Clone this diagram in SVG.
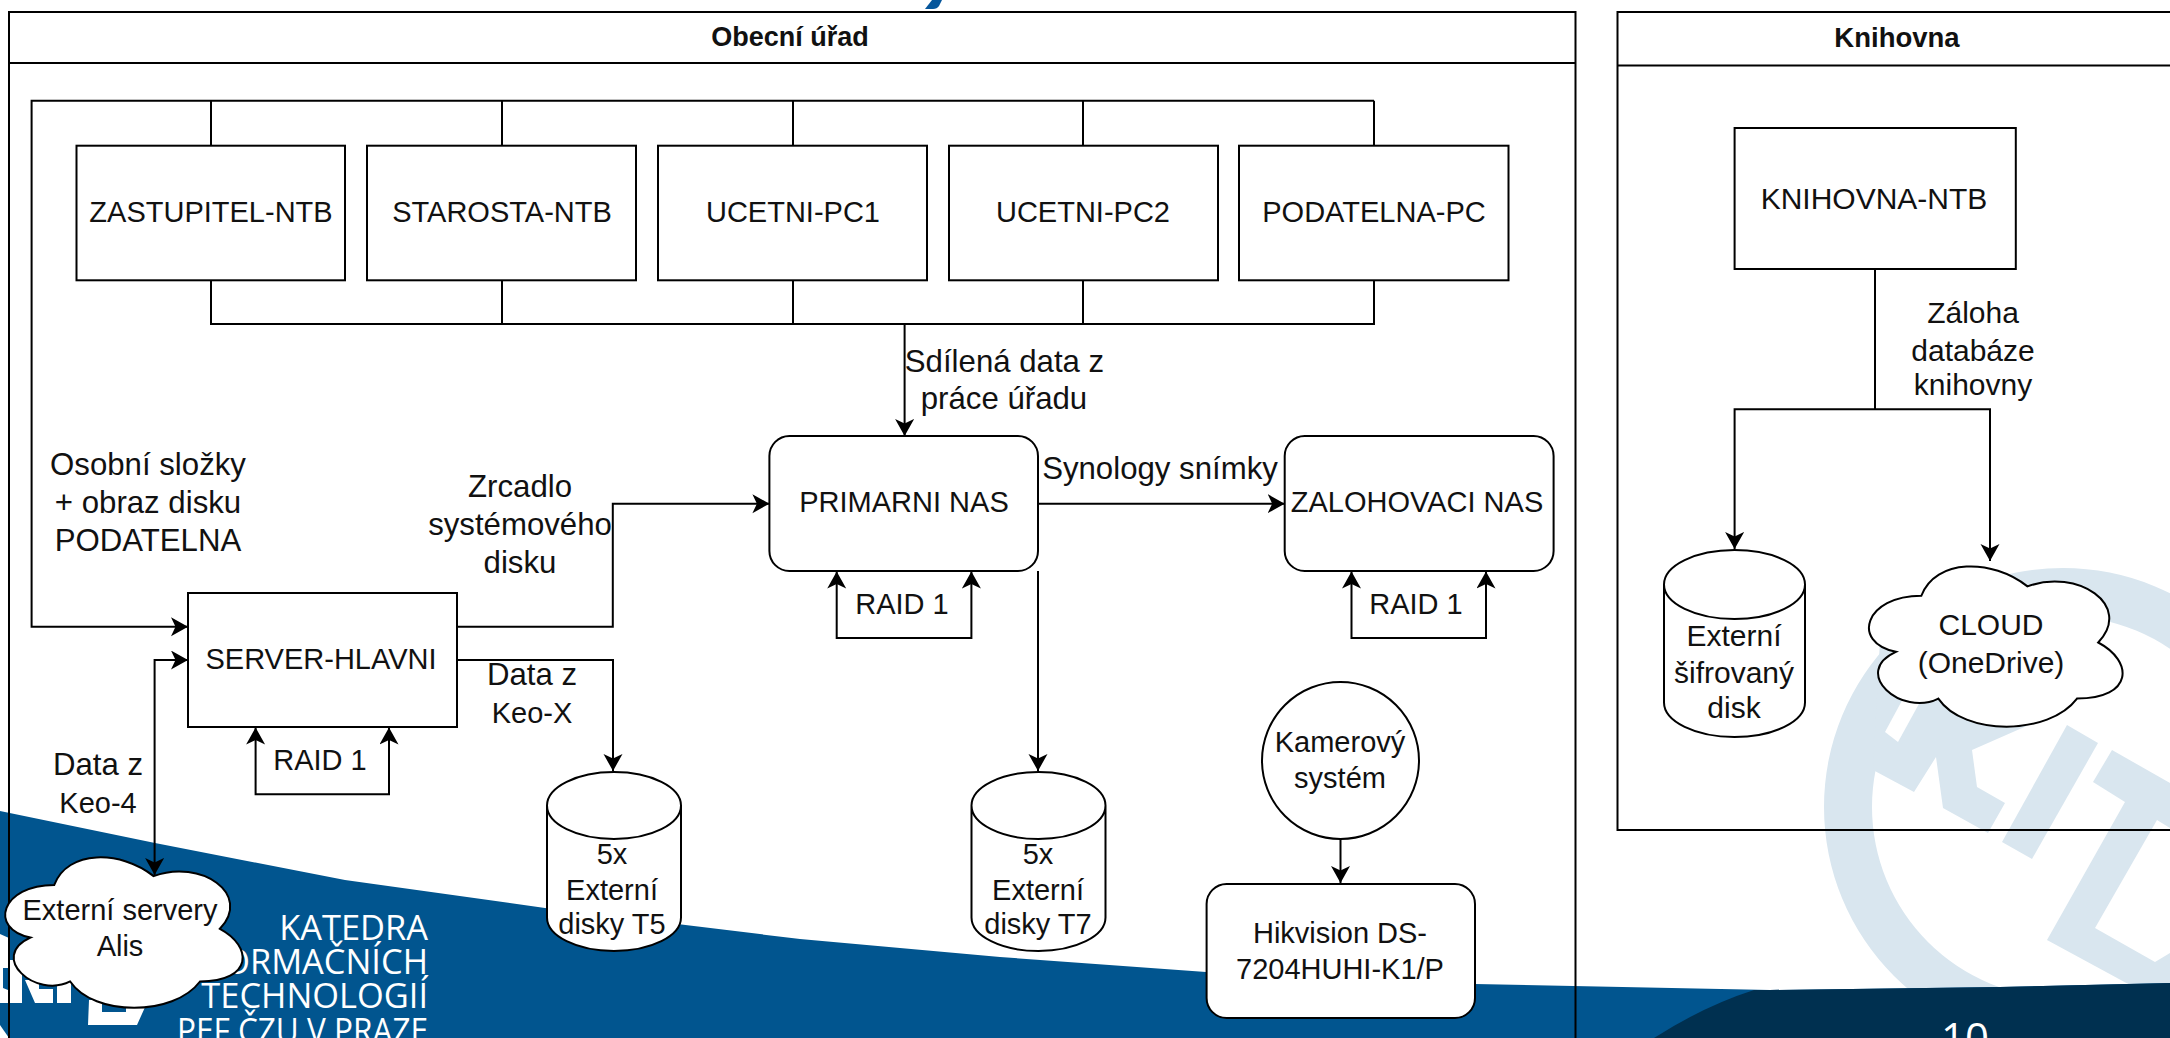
<svg xmlns="http://www.w3.org/2000/svg" xmlns:xlink="http://www.w3.org/1999/xlink" width="2170" height="1038" viewBox="0 0 2170 1038">
<style>
.ln{fill:none;stroke:#000;stroke-width:2}
.nd{fill:#fff;stroke:#000;stroke-width:2}
.lane{fill:none;stroke:#000;stroke-width:2}
.t{font-family:"Liberation Sans",Arial,sans-serif;font-size:29px;fill:#111;text-anchor:middle}
.k{font-size:30px}
.w{font-size:31.2px}
.h{font-family:"Liberation Sans",Arial,sans-serif;font-weight:bold;fill:#111;text-anchor:middle;font-size:27px}
.o{font-family:"Open Sans",sans-serif;font-size:34.4px;fill:#fff;text-anchor:end}
.wm{fill:#d9e6ef}
.lg{fill:#fff}
.bl{fill:#01558f}
</style>
<defs>
<marker id="a" markerUnits="userSpaceOnUse" markerWidth="18" markerHeight="20" refX="17" refY="9.5" orient="auto-start-reverse"><path d="M0,0 L17,9.5 L0,19 L4.5,9.5Z" fill="#000"/></marker>
<path id="cloud" d="M.25,.25 C.05,.25 0,.5 .16,.55 C0,.66 .18,.9 .31,.8 C.4,1 .7,1 .8,.8 C1,.8 1,.6 .875,.5 C1,.3 .8,.1 .625,.2 C.5,.05 .3,.05 .25,.25Z" fill="#fff" stroke="#000" stroke-width="2" vector-effect="non-scaling-stroke"/>
</defs>

<g id="background">
<rect width="2170" height="1038" fill="#fff"/>
<path d="M925,9 L932,0 L942,0 L939,6 Q937,9 933,9Z" fill="#06569b"/>
<g id="watermark">
<path class="wm" fill-rule="evenodd" d="M1824,807 A239,239 0 1 1 2302,807 A239,239 0 1 1 1824,807Z M1872,807 A191,191 0 1 0 2254,807 A191,191 0 1 0 1872,807Z"/>
<path class="wm" d="M1873,770 L1914,792 L1936,757 L1943,808 L1988,833 L2005,803 L1977,787 L1972,750 L2040,720 L1950,640 L1880,640Z"/>
<path d="M1885,732 L1898,742 L1920,702 L1905,695Z" fill="#fff"/>
<path class="wm" d="M2067,725 L2098,743 L2032,859 L2002,842Z"/>
<path class="wm" d="M2112,750 L2170,783 L2170,828 L2157,820 L2095,928 L2155,962 L2170,953 L2170,985 L2130,985 L2047,940 L2125,802 L2093,782Z"/>
</g>
<path class="bl" d="M0,811 L155,843 L345,880 L545,908 L800,939 L1000,957 L1206,972 L1475,984 L1770,990 L2000,987 L2170,983 L2170,1038 L0,1038Z"/>
<path fill="#003050" d="M1654,1038 Q1704,1006 1754,990 L1770,990 L2000,987 L2170,983 L2170,1038Z"/>
<g id="logo">
<path class="lg" d="M0,934 L9,938 L9,1003 L0,1003Z"/>
<path class="bl" d="M3,968 L8,968 L8,990 L3,988Z"/>
<path class="lg" d="M9,960 L22,960 L22,1003 L9,1003Z"/>
<path class="lg" d="M25,980 L39,980 L39,989 L53,989 L53,1003 L35,1003Z"/>
<path class="lg" d="M57,975 L71,975 L71,1003 L57,1003Z"/>
<path class="lg" d="M89,1000 L102,1000 L102,1012 L126,1012 L126,1005 L146,1005 L137,1025 L88,1025Z"/>
<path class="lg" d="M0,1025 L9,1038 L0,1038Z"/>
</g>
<text class="o" x="428" y="940">KATEDRA</text>
<text class="o" x="428" y="974">INFORMAČNÍCH</text>
<text class="o" x="428" y="1008">TECHNOLOGIÍ</text>
<text class="o" x="428" y="1043" textLength="251" lengthAdjust="spacingAndGlyphs">PEF ČZU V PRAZE</text>
<text x="1965" y="1053" font-family="Open Sans, sans-serif" font-size="42" fill="#fff" text-anchor="middle">10</text>
</g>

<g id="lane-obecni">
<path class="lane" d="M9,1040 L9,12 L1575.5,12 L1575.5,1040 M9,63 L1575.5,63"/>
<text class="h" x="790" y="46">Obecní úřad</text>
</g>
<g id="lane-knihovna">
<path class="lane" d="M2172,12 L1617.5,12 L1617.5,830 L2172,830 M1617.5,65.5 L2172,65.5"/>
<text class="h" x="1897" y="47" style="font-size:27.5px">Knihovna</text>
</g>

<g id="connectors">
<path class="ln" d="M211,145.7 V100.7 M502,145.7 V100.7 M793,145.7 V100.7 M1083,145.7 V100.7 M1374,100.7 V145.7"/>
<path class="ln" marker-end="url(#a)" d="M1374,100.7 H31.6 V626.7 H188"/>
<path class="ln" d="M211,280.3 V324 H1374 V280.3 M502,280.3 V324 M793,280.3 V324 M1083,280.3 V324"/>
<path class="ln" marker-end="url(#a)" d="M904.6,324 V436"/>
<path class="ln" marker-end="url(#a)" d="M1038,503.7 H1284.7"/>
<path class="ln" marker-end="url(#a)" d="M457,626.7 H612.8 V503.7 H769.4"/>
<path class="ln" marker-start="url(#a)" marker-end="url(#a)" d="M188,660 H154.6 V875"/>
<path class="ln" marker-end="url(#a)" d="M457,660 H613 V771"/>
<path class="ln" marker-start="url(#a)" marker-end="url(#a)" d="M255.6,727.5 V794.3 H389 V727.5"/>
<path class="ln" marker-start="url(#a)" marker-end="url(#a)" d="M836.7,571.5 V638 H971.4 V571.5"/>
<path class="ln" marker-start="url(#a)" marker-end="url(#a)" d="M1351.5,571.5 V638 H1486 V571.5"/>
<path class="ln" marker-end="url(#a)" d="M1038,571 V771"/>
<path class="ln" marker-end="url(#a)" d="M1340.5,839 V883"/>
<path class="ln" d="M1875,269 V409.3"/>
<path class="ln" marker-end="url(#a)" d="M1875,409.3 H1734.6 V549"/>
<path class="ln" marker-end="url(#a)" d="M1875,409.3 H1990 V561"/>
</g>

<g id="labels">
<text class="t w" x="148" y="475">Osobní složky</text>
<text class="t w" x="148" y="513">+ obraz disku</text>
<text class="t w" x="148" y="551">PODATELNA</text>
<text class="t w" x="520" y="497">Zrcadlo</text>
<text class="t w" x="520" y="535">systémového</text>
<text class="t w" x="520" y="573">disku</text>
<text class="t w" x="532" y="685">Data z</text>
<text class="t" x="532" y="723">Keo-X</text>
<text class="t w" x="98" y="775">Data z</text>
<text class="t" x="98" y="813">Keo-4</text>
<text class="t" x="320" y="770">RAID 1</text>
<text class="t" x="902" y="614">RAID 1</text>
<text class="t" x="1416" y="614">RAID 1</text>
<text class="t w" x="1004.5" y="372">Sdílená data z</text>
<text class="t w" x="1004" y="409">práce úřadu</text>
<text class="t w" x="1160" y="479">Synology snímky</text>
<text class="t k" x="1973" y="323">Záloha</text>
<text class="t k" x="1973" y="361">databáze</text>
<text class="t k" x="1973" y="395">knihovny</text>
</g>

<g id="n-zastupitel"><rect class="nd" x="76.5" y="145.7" width="268.5" height="134.6"/><text class="t" x="211" y="222">ZASTUPITEL-NTB</text></g>
<g id="n-starosta"><rect class="nd" x="367" y="145.7" width="269" height="134.6"/><text class="t" x="502" y="222">STAROSTA-NTB</text></g>
<g id="n-ucetni1"><rect class="nd" x="658" y="145.7" width="269" height="134.6"/><text class="t" x="793" y="222">UCETNI-PC1</text></g>
<g id="n-ucetni2"><rect class="nd" x="949" y="145.7" width="269" height="134.6"/><text class="t" x="1083" y="222">UCETNI-PC2</text></g>
<g id="n-podatelna"><rect class="nd" x="1239" y="145.7" width="269.5" height="134.6"/><text class="t" x="1374" y="222">PODATELNA-PC</text></g>
<g id="n-primarni"><rect class="nd" x="769.4" y="436" width="268.6" height="135" rx="20"/><text class="t" x="904" y="512">PRIMARNI NAS</text></g>
<g id="n-zalohovaci"><rect class="nd" x="1284.7" y="436" width="268.9" height="135" rx="20"/><text class="t" x="1417" y="512">ZALOHOVACI NAS</text></g>
<g id="n-server"><rect class="nd" x="188" y="593" width="269" height="134"/><text class="t" x="321" y="669">SERVER-HLAVNI</text></g>
<g id="n-t5"><path class="nd" d="M547,805.5 A67,33.5 0 0 1 681,805.5 V917.5 A67,33.5 0 0 1 547,917.5Z M547,805.5 A67,33.5 0 0 0 681,805.5"/><text class="t" x="612" y="864">5x</text><text class="t" x="612" y="900">Externí</text><text class="t" x="612" y="934">disky T5</text></g>
<g id="n-t7"><path class="nd" d="M971.5,805.5 A67,33.5 0 0 1 1105.5,805.5 V917.5 A67,33.5 0 0 1 971.5,917.5Z M971.5,805.5 A67,33.5 0 0 0 1105.5,805.5"/><text class="t" x="1038" y="864">5x</text><text class="t" x="1038" y="900">Externí</text><text class="t" x="1038" y="934">disky T7</text></g>
<g id="n-kamery"><circle class="nd" cx="1340.5" cy="760.5" r="78.5"/><text class="t" x="1340" y="752">Kamerový</text><text class="t" x="1340" y="788">systém</text></g>
<g id="n-hikvision"><rect class="nd" x="1206.6" y="884" width="268.4" height="134" rx="20"/><text class="t" x="1340" y="943">Hikvision DS-</text><text class="t" x="1340" y="979">7204HUHI-K1/P</text></g>
<g id="n-alis"><use href="#cloud" transform="translate(-12,841) scale(265,175.6)"/><text class="t" x="120" y="920">Externí servery</text><text class="t" x="120" y="956">Alis</text></g>
<g id="n-knihovna"><rect class="nd" x="1734.6" y="128" width="281.2" height="141"/><text class="t k" x="1874" y="209">KNIHOVNA-NTB</text></g>
<g id="n-disk"><path class="nd" d="M1664,584.5 A70.5,34.5 0 0 1 1805,584.5 V702.5 A70.5,34.5 0 0 1 1664,702.5Z M1664,584.5 A70.5,34.5 0 0 0 1805,584.5"/><text class="t k" x="1734" y="646">Externí</text><text class="t k" x="1734" y="683">šifrovaný</text><text class="t k" x="1734" y="718">disk</text></g>
<g id="n-cloud"><use href="#cloud" transform="translate(1850.6,549) scale(283,187)"/><text class="t k" x="1991" y="635">CLOUD</text><text class="t k" x="1991" y="673">(OneDrive)</text></g>
</svg>
